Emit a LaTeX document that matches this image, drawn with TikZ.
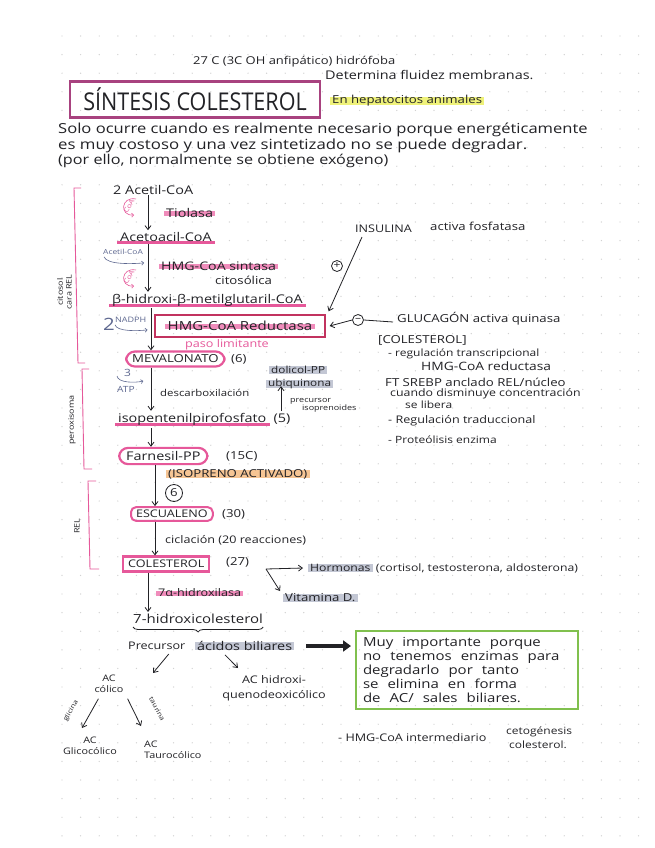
\documentclass[tikz,border=0pt]{standalone}
\usepackage{fontspec}
\setmainfont[FakeStretch=1.2]{Open Sans}
\newfontfamily\titlef[FakeStretch=0.88]{Open Sans}
\usetikzlibrary{arrows.meta,decorations.pathreplacing,calc,fit}
\definecolor{pk}{HTML}{E6589A}
\definecolor{pkl}{HTML}{F08CBB}
\definecolor{pkd}{HTML}{C2335F}
\definecolor{pur}{HTML}{A8427F}
\definecolor{grn}{HTML}{80C04E}
\definecolor{gry}{HTML}{C3C7D4}
\definecolor{ylw}{HTML}{EFF27A}
\definecolor{org}{HTML}{F6C594}
\definecolor{ink}{HTML}{222226}
\definecolor{blu}{HTML}{5E6890}
\newcommand{\fz}[1]{\fontsize{#1}{#1}\selectfont}
\pgfdeclarelayer{paper}
\pgfdeclarelayer{bg}
\pgfsetlayers{paper,bg,main}
\newcommand{\hlthru}[2]{\begin{pgfonlayer}{bg}\fill[#2] ([xshift=-2pt,yshift=-3pt]#1.west) rectangle ([xshift=2pt,yshift=2pt]#1.east);\end{pgfonlayer}}
\newcommand{\hlunder}[2]{\begin{pgfonlayer}{bg}\fill[#2] ([xshift=-3pt,yshift=-7pt]#1.west) rectangle ([xshift=3pt,yshift=-4pt]#1.east);\end{pgfonlayer}}
\newcommand{\hlfull}[2]{\begin{pgfonlayer}{bg}\fill[#2] ([xshift=-2pt,yshift=-4pt]#1.west) rectangle ([xshift=2pt,yshift=4pt]#1.east);\end{pgfonlayer}}
\tikzset{
  t/.style={anchor=west, inner sep=0pt, text=ink, font=\fz{12}},
  arr/.style={-{Straight Barb[length=4pt,width=6pt]}, line width=0.8pt, draw=ink},
  brk/.style={draw=pk, line width=0.9pt},
  oval/.style={t, draw=pk, line width=2.2pt, rounded corners=9pt, inner xsep=6pt, inner ysep=3.5pt, font=\fz{11}},
  sign/.style={circle, draw=ink, line width=0.8pt, inner sep=0.5pt, minimum size=11pt, font=\fz{10}, text=ink},
  vlab/.style={font=\fz{7.5}, text=ink, inner sep=0pt},
}
\begin{document}
\begin{tikzpicture}[x=1pt,y=-1pt]
\begin{pgfonlayer}{paper}
\fill[white] (0,0) rectangle (655,848);
\foreach \i in {0,...,31}{\foreach \j in {0,...,43}{\fill[gray!35] (62+18.6*\i,36+18.6*\j) circle (0.7);}}
\end{pgfonlayer}
\useasboundingbox (0,0) rectangle (655,848);

% header
\node[t,font=\fz{10.8}] (top1) at (193,62) {27 C (3C OH anfipático) hidrófoba};
\node[t,font=\fz{12}] (top2) at (325,75) {Determina fluidez membranas.};
\node[draw=pur, line width=2.4pt, minimum width=250pt, minimum height=36pt, inner sep=0pt, font=\titlef\fz{24.5}, text=ink] (title) at (195,99.5) {SÍNTESIS COLESTEROL};
\node[t,font=\fz{11}] (hep) at (332,101) {En hepatocitos animales};
\hlfull{hep}{ylw}

\node[t,font=\fz{13.8}] (i1) at (58,130) {Solo ocurre cuando es realmente necesario porque energéticamente};
\node[t,font=\fz{14}] (i2) at (58,146) {es muy costoso y una vez sintetizado no se puede degradar.};
\node[t,font=\fz{13.5}] (i3) at (58,161) {(por ello, normalmente se obtiene exógeno)};

% left brackets
\draw[brk] (81,188) -- (74,188) -- (78,363) -- (85,363);
\node[vlab, rotate=90] (lcit) at (60,292) {citosol};
\node[vlab, rotate=90] (lrel1) at (69,292) {cara REL};
\draw[brk] (89,369) -- (82,369) -- (84,469) -- (92,469);
\node[vlab, rotate=90] (lper) at (72,420) {peroxisoma};
\draw[brk] (96,481) -- (88,481) -- (90,569) -- (99,569);
\node[vlab, rotate=90] (lrel2) at (77,526) {REL};

% pathway
\coordinate (ax1) at (148,0);
\coordinate (ax2) at (151,0);
\coordinate (ax3) at (155,0);
\node[t] (acetil) at (113,190) {2 Acetil-CoA};
\node[t,font=\fz{12}] (tiolasa) at (166,213) {Tiolasa};
\hlthru{tiolasa}{pkl}
\node[font=\fz{6.5}, text=pk, rotate=60, inner sep=0pt] (coa1) at (129,206) {CoA};
\draw[pk, line width=0.6pt, -{Straight Barb[length=2pt]}] ($(coa1)+(7,-7)$) .. controls ($(coa1)+(-8,-10)$) and ($(coa1)+(-10,10)$) .. ($(coa1)+(5,9)$);
\node[t] (acetoacil) at (120,237) {Acetoacil-CoA};
\hlunder{acetoacil}{pk}
\draw[arr] (acetil.south -| ax1) -- ([yshift=2pt]acetoacil.north -| ax1);

\node[t,font=\fz{7},text=blu] (acside) at (103,252) {Acetil-CoA};
\draw[blu, line width=0.6pt, -{Straight Barb[length=2pt]}] ($(acside.south west)+(1,2)$) .. controls ($(acside.south west)+(4,10)$) and ($(acside.south east)+(-10,9)$) .. ($(acside.south east)+(1,8)$);
\node[font=\fz{6.5}, text=pk, rotate=60, inner sep=0pt] (coa2) at (129,277) {CoA};
\draw[pk, line width=0.6pt, -{Straight Barb[length=2pt]}] ($(coa2)+(7,-7)$) .. controls ($(coa2)+(-8,-10)$) and ($(coa2)+(-10,10)$) .. ($(coa2)+(5,9)$);
\node[t,font=\fz{11.8}] (sintasa) at (161,266) {HMG-CoA sintasa};
\hlthru{sintasa}{pkl}
\node[t,font=\fz{11}] (citos) at (215,280) {citosólica};
\node[t,font=\fz{12}] (bhmg) at (112,300) {β-hidroxi-β-metilglutaril-CoA};
\hlunder{bhmg}{pk}
\draw[arr] ([yshift=-2pt]acetoacil.south -| ax1) -- ([yshift=2pt]bhmg.north -| ax1);

\node[t,font=\fz{17},text=blu] (two) at (103,324) {2};
\node[t,font=\fz{7.5},text=blu] (nadph) at (115,320) {NADPH};
\draw[blu, line width=0.6pt, -{Straight Barb[length=2pt]}] ($(nadph.south west)+(0,2)$) .. controls ($(nadph.south west)+(2,9)$) and ($(nadph.south east)+(-8,8)$) .. ($(nadph.south east)+(1,7)$);
\node[inner sep=0pt, font=\fz{12.5}, text=ink] (redt) at (240,326) {HMG-CoA Reductasa};
\hlthru{redt}{pkl}
\node[draw=pkd, line width=1.3pt, fit=(redt), inner sep=0pt, minimum width=170pt, minimum height=22pt] (reduct) {};
\node[t,font=\fz{10.5},text=pk] (paso) at (185,345) {paso limitante};
\node[oval] (meva) at (125,359) {MEVALONATO};
\node[t,font=\fz{11}] (meva6) at (231,359) {(6)};
\draw[arr] ([yshift=-2pt]bhmg.south -| ax2) -- (meva.north -| ax2);

\node[t,font=\fz{10},text=blu] (three) at (124,373) {3};
\node[t,font=\fz{8.5},text=blu] (atp) at (117,389) {ATP};
\draw[blu, line width=0.6pt, -{Straight Barb[length=2pt]}] ($(three.west)+(-7,3)$) .. controls ($(three.west)+(-6,10)$) and ($(three.east)+(4,10)$) .. ($(three.east)+(12,8)$);
\node[t,font=\fz{9.5}] (descarb) at (160,393) {descarboxilación};
\node[t,font=\fz{12}] (ipp) at (118,419) {isopentenilpirofosfato};
\hlunder{ipp}{pk}
\node[t,font=\fz{12}] (ipp5) at ([xshift=7pt]ipp.east) {(5)};
\draw[arr] (meva.south -| ax2) -- ([yshift=2pt]ipp.north -| ax2);

\node[t,font=\fz{9.8}] (doli) at (271,370) {dolicol-PP};
\hlfull{doli}{gry}
\node[t,font=\fz{9.8}] (ubi) at (268,384) {ubiquinona};
\hlfull{ubi}{gry}
\coordinate (up1) at (281,411);
\draw[arr] (up1) -- ([yshift=3pt]ubi.south -| up1);
\node[t,font=\fz{7.5}] (prec1) at (290,401) {precursor};
\node[t,font=\fz{7.5}] (prec2) at (302,409) {isoprenoides};

\node[oval, font=\fz{12}, inner xsep=7pt] (farn) at (118,456) {Farnesil-PP};
\node[t,font=\fz{11}] (farn15) at (226,456) {(15C)};
\draw[arr] ([yshift=-3pt]ipp.south -| ax2) -- (farn.north -| ax2);
\node[t,font=\fz{11}] (isop) at (168,474) {(ISOPRENO ACTIVADO)};
\hlfull{isop}{org}
\node[sign, minimum size=17pt, font=\fz{11}] (six) at (174,493) {6};

\node[t, draw=pk, line width=2pt, rounded corners=5pt, inner xsep=5pt, inner ysep=3pt, font=\fz{10.5}] (esc) at (130,514) {ESCUALENO};
\node[t,font=\fz{11}] (esc30) at (222,514) {(30)};
\draw[arr] (farn.south -| ax3) -- (esc.north -| ax3);
\node[t,font=\fz{10.5}] (cicl) at (165,540) {ciclación (20 reacciones)};
\node[t, draw=pk, line width=2.4pt, inner xsep=5pt, inner ysep=3.5pt, font=\fz{10.5}] (col) at (122,564) {COLESTEROL};
\node[t,font=\fz{11}] (col27) at (226,562) {(27)};
\draw[arr] (esc.south -| ax3) -- (col.north -| ax3);

\coordinate (br) at (266,569);
\node[t,font=\fz{10.2}] (horm) at (310,568) {Hormonas};
\hlfull{horm}{gry}
\node[t,font=\fz{10.2}] (horm2) at ([xshift=5pt]horm.east) {(cortisol, testosterona, aldosterona)};
\node[t,font=\fz{11}] (vitd) at (285,598) {Vitamina D.};
\hlfull{vitd}{gry}
\draw[arr] (br) -- ([xshift=-7pt]horm.west);
\draw[arr] (br) -- ($(vitd.west)+(-5,-7)$);

\node[t,font=\fz{10.5}] (hidrox) at (158,593) {7α-hidroxilasa};
\hlthru{hidrox}{pkl}
\node[t,font=\fz{12.5}] (hidcol) at (133,619) {7-hidroxicolesterol};
\draw[arr] (col.south -| ax1) -- ([yshift=2pt]hidcol.north -| ax1);
\draw[ink, line width=0.8pt, decorate, decoration={brace, amplitude=5pt}] ([yshift=-3pt]hidcol.south east) -- ([yshift=-3pt]hidcol.south west);

\node[t,font=\fz{10.5}] (prec) at (128,646) {Precursor};
\node[t,font=\fz{12}] (acbil) at (197,646) {ácidos biliares};
\hlfull{acbil}{gry}
\node[draw=grn, line width=2pt, anchor=north west, text width=208pt, minimum height=78pt, inner xsep=7pt, inner ysep=5pt, align=left, font=\fontsize{12.5}{14}\selectfont, text=ink] (green) at (355,630) {\spaceskip=9pt plus 3pt Muy importante porque\\ no tenemos enzimas para\\ degradarlo por tanto\\ se elimina en forma\\ de AC/ sales biliares.};
\draw[ink, line width=3.2pt, -{Triangle[length=8pt,width=11pt]}] ([xshift=14pt]acbil.east) -- ([xshift=-4pt]acbil.east -| green.west);

\node[font=\fontsize{9}{10.5}\selectfont, align=center, inner sep=0pt, text=ink] (accol) at (109,684) {AC\\cólico};
\node[font=\fontsize{10.5}{15}\selectfont, align=center, inner sep=0pt, text=ink] (acq) at (274,688) {AC hidroxi-\\quenodeoxicólico};
\coordinate (e1) at (153,673);
\coordinate (e2) at (238,668);
\draw[arr] ($(prec.south)+(12,4)$) -- (e1);
\draw[arr] ($(acbil.south west)+(28,4)$) -- (e2);

\node[font=\fontsize{9}{11}\selectfont, align=center, inner sep=0pt, text=ink] (acgli) at (90,746) {AC\\Glicocólico};
\node[font=\fontsize{9}{11}\selectfont, align=left, inner sep=0pt, text=ink, anchor=west] (actau) at (144,750) {AC\\Taurocólico};
\coordinate (g1) at (82,728);
\coordinate (t1) at (141,726);
\draw[arr] ($(accol.south west)+(4,6)$) -- (g1);
\draw[arr] ($(accol.south east)+(4,6)$) -- (t1);
\node[font=\fz{6.5}, text=ink, rotate=60, inner sep=0pt] (glic) at (71,711) {glicina};
\node[font=\fz{6.5}, text=ink, rotate=-62, inner sep=0pt] (taur) at (157,709) {taurina};

\node[t,font=\fz{10.5}] (note) at (338,738) {- HMG-CoA intermediario};
\node[t,font=\fz{10}] (note2) at (506,732) {cetogénesis};
\node[t,font=\fz{10}] (note3) at (509,745) {colesterol.};

% regulation
\node[t,font=\fz{10.5}] (ins) at (355,229) {INSULINA};
\node[t,font=\fz{11}] (insb) at (430,226) {activa fosfatasa};
\draw[arr] ([xshift=7pt,yshift=-4pt]ins.south west) -- ([xshift=3pt,yshift=3pt]reduct.north east);
\node[sign] (plus) at (337,266) {+};
\node[sign] (minus) at (358,320) {–};
\draw[arr] (minus.west) -- ([xshift=4pt]reduct.east);
\node[t,font=\fz{11}] (gluc) at (397,319) {GLUCAGÓN activa quinasa};
\draw[ink, line width=0.8pt] (minus.east) -- ([xshift=-4pt,yshift=-3pt]gluc.west);
\node[t,font=\fz{11}] (colr) at (378,340) {[COLESTEROL]};
\node[t,font=\fz{10}] (r1) at (388,354) {- regulación transcripcional};
\node[t,font=\fz{11.5}] (r2) at (421,366) {HMG-CoA reductasa};
\node[t,font=\fz{11}] (r3) at (385,382) {FT SREBP anclado REL/núcleo};
\node[t,font=\fz{10.3}] (r4) at (390,394) {cuando disminuye concentración};
\node[t,font=\fz{10}] (r5) at (405,405) {se libera};
\node[t,font=\fz{10.5}] (r6) at (388,421) {- Regulación traduccional};
\node[t,font=\fz{10}] (r7) at (388,440) {- Proteólisis enzima};
\end{tikzpicture}
\end{document}
